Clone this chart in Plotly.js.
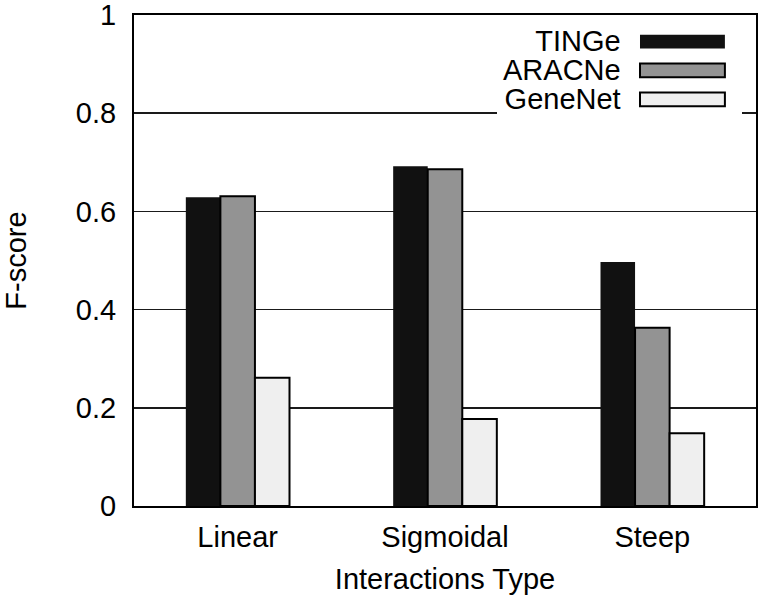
<!DOCTYPE html>
<html>
<head>
<meta charset="utf-8">
<script src="https://cdn.plot.ly/plotly-3.0.1.min.js"></script>
<style>html,body{margin:0;padding:0;background:#fff;}#chart{width:758px;height:596px;}</style>
</head>
<body>
<div id="chart"></div>
<script>
const categories = ['Linear', 'Sigmoidal', 'Steep'];
const seriesNames = ['TINGe', 'ARACNe', 'GeneNet'];
const tinge = [0.629, 0.692, 0.497];
const aracne = [0.631, 0.686, 0.363];
const genenet = [0.261, 0.177, 0.148];
const yTicks = [0, 0.2, 0.4, 0.6, 0.8, 1];

const colors = ['#111111', '#939393', '#efefef'];
const values = [tinge, aracne, genenet];
const FONT = 'Liberation Sans, Arial, Helvetica, sans-serif';
const FS = 29;

const traces = values.map((v, i) => ({
  type: 'bar', name: seriesNames[i], x: categories, y: v,
  marker: {color: colors[i], line: {color: '#000', width: i === 0 ? 0 : 2}},
  showlegend: false, hoverinfo: 'skip'
}));

// custom legend (text left of swatch, like the original)
const shapes = [];
shapes.push({type: 'rect', xref: 'paper', yref: 'paper', x0: 0.5836, x1: 0.9775, y0: 0.785, y1: 0.975,
  fillcolor: '#fff', line: {width: 0}, layer: 'above'});
const rowY = [0.946, 0.887, 0.828];
seriesNames.forEach((n, i) => {
  shapes.push({type: 'rect', xref: 'paper', yref: 'paper', x0: 0.8135, x1: 0.950,
    y0: rowY[i] - 0.014, y1: rowY[i] + 0.014,
    fillcolor: colors[i], line: {color: '#000', width: i === 0 ? 0 : 2}, layer: 'above'});
});
const legendText = seriesNames.map(n => '<span style="font-size:' + FS + 'px">' + n + '</span>').join('<br>');
const annotations = [{
  xref: 'paper', yref: 'paper', x: 0.786, y: rowY[1], xanchor: 'right', yanchor: 'middle', align: 'right',
  text: legendText, showarrow: false, font: {family: FONT, size: 22.3, color: '#000'}
}];

const layout = {
  width: 758, height: 596,
  margin: {l: 134, r: 2, t: 15, b: 90},
  paper_bgcolor: '#fff', plot_bgcolor: '#fff',
  font: {family: FONT, size: FS, color: '#000'},
  bargap: 0.5, bargroupgap: 0, barmode: 'group',
  xaxis: {
    type: 'category', range: [-0.5, 2.5], showline: true, mirror: true, linewidth: 2, linecolor: '#000',
    ticks: '', showgrid: false, zeroline: false,
    ticklabelstandoff: 4,
    tickfont: {family: FONT, size: FS},
    title: {text: 'Interactions Type', font: {family: FONT, size: FS}, standoff: 17},
    automargin: false
  },
  xaxis2: {
    overlaying: 'x', anchor: 'y', side: 'bottom', range: [-0.5, 2.5], type: 'linear',
    tickvals: [0.5, 1.5], showticklabels: false, ticks: 'outside', ticklen: 13, tickwidth: 2, tickcolor: '#000',
    showgrid: false, zeroline: false, showline: false
  },
  yaxis: {
    range: [0, 1], tickvals: yTicks, showline: true, mirror: true, linewidth: 2, linecolor: '#000',
    ticks: '', showgrid: true, gridcolor: '#1a1a1a', gridwidth: 1.6, zeroline: false,
    ticklabelstandoff: 10, ticklabeloverflow: 'allow',
    tickfont: {family: FONT, size: FS},
    title: {text: 'F-score', font: {family: FONT, size: FS}, standoff: 47},
    automargin: false
  },
  shapes: shapes,
  annotations: annotations
};

Plotly.newPlot('chart', traces, layout, {displayModeBar: false, staticPlot: true});
</script>
</body>
</html>
